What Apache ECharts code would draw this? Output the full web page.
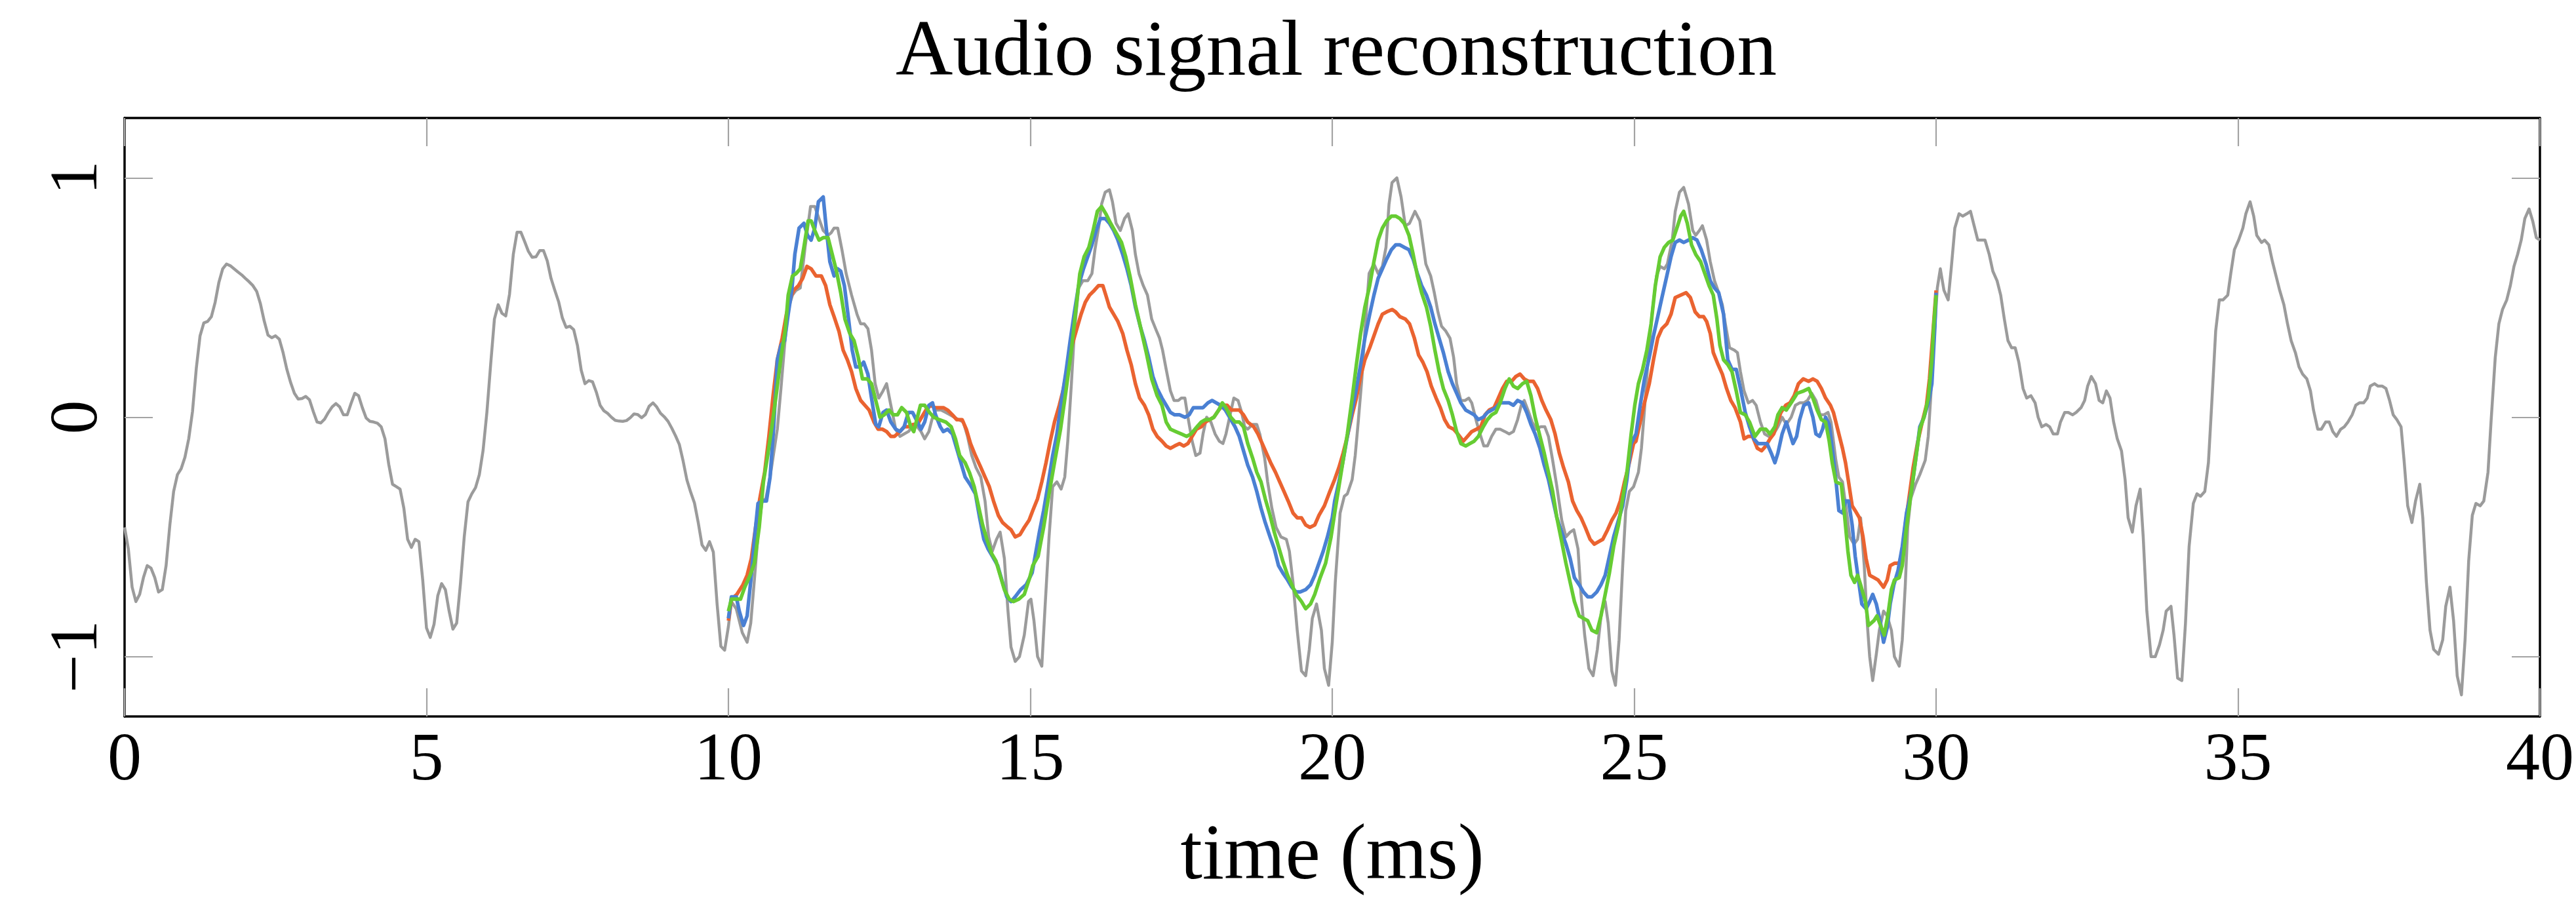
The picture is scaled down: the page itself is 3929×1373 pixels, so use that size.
<!DOCTYPE html>
<html>
<head>
<meta charset="utf-8">
<script src="https://cdn.jsdelivr.net/npm/echarts@6/dist/echarts.min.js"></script>
<style>
html,body{margin:0;padding:0;background:#fff;}
#chart{width:3929px;height:1373px;}
</style>
</head>
<body>
<div id="chart"></div>
<script>
const titleText = 'Audio signal reconstruction';
const xAxisName = 'time (ms)';
const xTicks = [0, 5, 10, 15, 20, 25, 30, 35, 40];
const yTicks = [-1, 0, 1];
const yTickLabels = ['\u22121', '0', '1'];

// original signal, 0–10 ms sampled every 0.0625 ms
const sampleMs = 0.0625;
const originalHead = [-0.46,-0.55,-0.71,-0.77,-0.74,-0.67,-0.62,-0.63,-0.67,-0.73,-0.72,-0.62,-0.45,-0.31,-0.24,-0.215,-0.167,-0.09,0.024,0.203,
0.34,0.394,0.40,0.42,0.48,0.564,0.62,0.64,0.633,0.62,0.607,0.595,0.58,0.566,0.55,0.526,0.474,0.402,0.343,0.332,
0.34,0.326,0.27,0.2,0.145,0.10,0.076,0.078,0.087,0.073,0.024,-0.02,-0.024,-0.008,0.02,0.043,0.057,0.043,0.01,0.01,
0.057,0.1,0.09,0.04,-0.003,-0.017,-0.02,-0.025,-0.04,-0.09,-0.197,-0.28,-0.29,-0.30,-0.38,-0.51,-0.544,-0.51,-0.52,-0.68,
-0.88,-0.92,-0.865,-0.745,-0.695,-0.72,-0.81,-0.885,-0.86,-0.695,-0.50,-0.353,-0.32,-0.294,-0.24,-0.138,0.02,0.22,0.41,0.47,
0.434,0.423,0.514,0.68,0.773,0.773,0.734,0.693,0.668,0.67,0.696,0.696,0.653,0.58,0.53,0.483,0.415,0.375,0.38,0.366,
0.30,0.196,0.14,0.153,0.148,0.105,0.05,0.027,0.016,0,-0.013,-0.016,-0.017,-0.014,-0.002,0.014,0.011,-0.002,0.011,0.046,
0.06,0.043,0.017,0.002,-0.017,-0.046,-0.078,-0.114,-0.183,-0.262,-0.313,-0.358,-0.44,-0.533,-0.556,-0.52,-0.563,-0.78,-0.957,-0.973,
-0.874];

// original signal, 10–40 ms  [time ms, amplitude]
const originalTail = [[10.05,-0.77],[10.13,-0.80],[10.18,-0.85],[10.23,-0.90],[10.31,-0.94],[10.37,-0.86],[10.43,-0.68],[10.50,-0.46],[10.56,-0.35],[10.62,-0.34],[10.69,-0.25],[10.75,-0.15],[10.81,-0.05],[10.87,0.12],[10.93,0.30],[10.99,0.45],[11.06,0.51],[11.12,0.53],[11.19,0.54],[11.27,0.71],[11.36,0.88],[11.43,0.88],[11.50,0.83],[11.57,0.78],[11.65,0.76],[11.70,0.77],[11.75,0.79],[11.81,0.79],[11.88,0.70],[11.95,0.60],[12.04,0.51],[12.13,0.43],[12.19,0.39],[12.25,0.39],[12.31,0.37],[12.37,0.28],[12.43,0.14],[12.49,0.08],[12.56,0.11],[12.62,0.14],[12.69,0.05],[12.77,-0.05],[12.84,-0.08],[12.91,-0.07],[12.98,-0.06],[13.05,-0.04],[13.13,-0.04],[13.19,-0.06],[13.25,-0.09],[13.32,-0.06],[13.37,-0.01],[13.43,0.03],[13.52,0.03],[13.60,0.02],[13.67,0.01],[13.74,0],[13.81,-0.01],[13.89,-0.02],[13.96,-0.08],[14.03,-0.16],[14.10,-0.21],[14.18,-0.25],[14.25,-0.35],[14.31,-0.50],[14.37,-0.56],[14.44,-0.51],[14.50,-0.48],[14.57,-0.59],[14.63,-0.81],[14.68,-0.96],[14.75,-1.02],[14.82,-1.00],[14.90,-0.91],[14.97,-0.77],
[15.01,-0.76],[15.06,-0.85],[15.12,-1.00],[15.19,-1.04],[15.24,-0.81],[15.31,-0.50],[15.37,-0.29],[15.44,-0.27],[15.51,-0.30],[15.57,-0.25],[15.62,-0.10],[15.68,0.14],[15.73,0.36],[15.80,0.54],[15.87,0.57],[15.95,0.57],[16.02,0.60],[16.07,0.70],[16.13,0.79],[16.18,0.89],[16.24,0.94],[16.31,0.95],[16.36,0.90],[16.42,0.81],[16.49,0.78],[16.56,0.83],[16.62,0.85],[16.69,0.78],[16.74,0.68],[16.80,0.60],[16.87,0.55],[16.94,0.51],[17.01,0.41],[17.09,0.36],[17.14,0.33],[17.19,0.28],[17.25,0.20],[17.32,0.11],[17.38,0.07],[17.45,0.07],[17.50,0.08],[17.56,0.08],[17.61,0],[17.68,-0.10],[17.74,-0.16],[17.81,-0.15],[17.86,-0.07],[17.92,0],[17.99,-0.02],[18.06,-0.07],[18.13,-0.10],[18.19,-0.11],[18.24,-0.07],[18.30,0],[18.37,0.08],[18.44,0.07],[18.50,0.02],[18.55,-0.04],[18.60,-0.05],[18.68,-0.03],[18.75,-0.03],[18.80,-0.07],[18.88,-0.17],[18.93,-0.27],[19.00,-0.38],[19.07,-0.46],[19.15,-0.50],[19.24,-0.51],[19.29,-0.56],[19.35,-0.69],[19.42,-0.89],[19.49,-1.06],[19.56,-1.08],[19.62,-0.97],[19.67,-0.84],[19.74,-0.78],[19.82,-0.89],[19.87,-1.05],[19.94,-1.12],
[20.00,-0.94],[20.05,-0.69],[20.13,-0.40],[20.20,-0.33],[20.25,-0.32],[20.33,-0.26],[20.38,-0.16],[20.43,-0.02],[20.49,0.16],[20.54,0.36],[20.61,0.60],[20.69,0.64],[20.76,0.60],[20.83,0.63],[20.89,0.71],[20.94,0.89],[20.99,0.98],[21.07,1.00],[21.14,0.92],[21.21,0.80],[21.28,0.81],[21.37,0.86],[21.45,0.82],[21.50,0.73],[21.55,0.64],[21.63,0.59],[21.69,0.52],[21.75,0.44],[21.81,0.38],[21.88,0.36],[21.95,0.33],[22.01,0.25],[22.06,0.14],[22.13,0.07],[22.20,0.07],[22.26,0.08],[22.31,0.06],[22.39,-0.02],[22.46,-0.08],[22.51,-0.12],[22.57,-0.12],[22.64,-0.08],[22.71,-0.05],[22.78,-0.05],[22.86,-0.06],[22.93,-0.07],[23.00,-0.06],[23.07,-0.01],[23.13,0.05],[23.18,0.07],[23.24,0.03],[23.31,-0.02],[23.38,-0.05],[23.45,-0.04],[23.52,-0.04],[23.58,-0.08],[23.65,-0.18],[23.72,-0.29],[23.80,-0.43],[23.87,-0.50],[23.94,-0.48],[24.00,-0.47],[24.07,-0.55],[24.12,-0.74],[24.18,-0.91],[24.25,-1.05],[24.32,-1.08],[24.39,-0.97],[24.46,-0.81],[24.52,-0.77],[24.57,-0.86],[24.63,-1.06],[24.69,-1.12],[24.75,-0.93],[24.81,-0.62],[24.86,-0.39],[24.92,-0.31],[24.99,-0.29],
[25.07,-0.23],[25.12,-0.13],[25.17,0.03],[25.23,0.24],[25.30,0.44],[25.37,0.59],[25.43,0.63],[25.50,0.62],[25.55,0.64],[25.63,0.74],[25.68,0.86],[25.75,0.94],[25.82,0.96],[25.90,0.89],[25.97,0.78],[26.02,0.76],[26.08,0.78],[26.13,0.80],[26.20,0.74],[26.26,0.65],[26.33,0.57],[26.40,0.52],[26.46,0.47],[26.51,0.39],[26.58,0.29],[26.66,0.28],[26.71,0.27],[26.76,0.19],[26.82,0.11],[26.89,0.06],[26.96,0.07],[27.02,0.05],[27.09,-0.02],[27.16,-0.07],[27.23,-0.08],[27.31,-0.07],[27.38,-0.04],[27.45,0],[27.52,-0.03],[27.60,0],[27.67,0.05],[27.74,0.06],[27.81,0.06],[27.87,0.07],[27.94,0.10],[28.01,0.07],[28.08,0.01],[28.14,0.01],[28.21,0.02],[28.26,-0.02],[28.34,-0.18],[28.39,-0.25],[28.45,-0.27],[28.52,-0.40],[28.57,-0.50],[28.64,-0.53],[28.70,-0.51],[28.75,-0.42],[28.81,-0.62],[28.86,-0.86],[28.90,-1.00],[28.95,-1.10],[29.01,-0.99],[29.06,-0.89],[29.13,-0.81],[29.19,-0.83],[29.26,-0.89],[29.31,-1.00],[29.39,-1.04],[29.44,-0.93],[29.49,-0.70],[29.53,-0.46],[29.58,-0.34],[29.66,-0.28],[29.73,-0.24],[29.82,-0.18],[29.87,-0.08],[29.91,0.08],[29.96,0.30],[30.02,0.54],
[30.07,0.62],[30.13,0.53],[30.20,0.49],[30.25,0.62],[30.31,0.79],[30.38,0.85],[30.44,0.84],[30.51,0.85],[30.57,0.86],[30.63,0.80],[30.69,0.74],[30.75,0.74],[30.81,0.74],[30.88,0.68],[30.94,0.61],[31.01,0.57],[31.07,0.51],[31.13,0.41],[31.19,0.32],[31.25,0.29],[31.31,0.29],[31.37,0.23],[31.44,0.12],[31.50,0.08],[31.57,0.09],[31.64,0.06],[31.69,0],[31.75,-0.04],[31.82,-0.03],[31.88,-0.04],[31.94,-0.07],[32.01,-0.07],[32.06,-0.02],[32.13,0.02],[32.19,0.02],[32.26,0.01],[32.32,0.02],[32.40,0.04],[32.46,0.07],[32.51,0.13],[32.57,0.17],[32.64,0.14],[32.70,0.07],[32.76,0.06],[32.82,0.11],[32.88,0.08],[32.94,-0.02],[33.00,-0.09],[33.07,-0.14],[33.13,-0.26],[33.18,-0.42],[33.25,-0.48],[33.31,-0.37],[33.38,-0.30],[33.43,-0.50],[33.49,-0.81],[33.56,-1.00],[33.63,-1.00],[33.70,-0.95],[33.76,-0.89],[33.81,-0.81],[33.89,-0.79],[33.94,-0.91],[34.00,-1.09],[34.07,-1.10],[34.13,-0.86],[34.19,-0.54],[34.26,-0.36],[34.32,-0.32],[34.38,-0.33],[34.45,-0.31],[34.51,-0.19],[34.57,0.08],[34.63,0.36],[34.69,0.49],[34.75,0.49],[34.83,0.51],[34.88,0.60],[34.94,0.70],[35.01,0.74],
[35.08,0.79],[35.13,0.85],[35.20,0.90],[35.26,0.84],[35.31,0.76],[35.39,0.73],[35.44,0.74],[35.51,0.72],[35.57,0.65],[35.63,0.59],[35.69,0.53],[35.76,0.47],[35.82,0.39],[35.88,0.32],[35.95,0.27],[36.01,0.21],[36.07,0.18],[36.14,0.16],[36.20,0.11],[36.25,0.03],[36.32,-0.05],[36.38,-0.05],[36.45,-0.02],[36.51,-0.02],[36.57,-0.06],[36.63,-0.08],[36.70,-0.05],[36.76,-0.04],[36.82,-0.02],[36.89,0.01],[36.95,0.05],[37.01,0.06],[37.08,0.06],[37.14,0.08],[37.19,0.13],[37.26,0.14],[37.32,0.13],[37.39,0.13],[37.45,0.12],[37.51,0.07],[37.57,0.01],[37.63,-0.01],[37.70,-0.04],[37.75,-0.18],[37.81,-0.37],[37.88,-0.44],[37.94,-0.35],[38.01,-0.28],[38.06,-0.42],[38.12,-0.69],[38.18,-0.89],[38.24,-0.97],[38.32,-0.99],[38.39,-0.93],[38.44,-0.79],[38.51,-0.71],[38.57,-0.85],[38.63,-1.08],[38.70,-1.16],[38.76,-0.93],[38.82,-0.60],[38.88,-0.41],[38.94,-0.36],[39.01,-0.37],[39.07,-0.35],[39.14,-0.23],[39.19,-0.02],[39.26,0.25],[39.32,0.39],[39.38,0.45],[39.45,0.49],[39.51,0.55],[39.57,0.63],[39.63,0.68],[39.69,0.74],[39.75,0.83],[39.82,0.87],[39.88,0.82],[39.94,0.75],[40.00,0.74]];

// reconstructions 10–30 ms  [time ms, amplitude]
const reconBlue = [[10.00,-0.84],[10.05,-0.75],[10.13,-0.75],[10.18,-0.81],[10.25,-0.87],[10.31,-0.83],[10.38,-0.66],[10.43,-0.51],[10.49,-0.36],[10.56,-0.35],[10.63,-0.35],[10.69,-0.25],[10.75,-0.04],[10.81,0.24],[10.87,0.30],[10.93,0.32],[10.99,0.43],[11.05,0.53],[11.10,0.68],[11.17,0.79],[11.25,0.81],[11.31,0.76],[11.37,0.74],[11.43,0.79],[11.49,0.90],[11.57,0.92],[11.62,0.79],[11.68,0.65],[11.75,0.59],[11.81,0.62],[11.86,0.61],[11.92,0.55],[11.99,0.41],[12.05,0.28],[12.11,0.21],[12.18,0.21],[12.24,0.23],[12.31,0.18],[12.37,0.08],[12.44,-0.03],[12.49,-0.04],[12.56,0.02],[12.62,0.03],[12.69,-0.02],[12.77,-0.05],[12.84,-0.06],[12.91,-0.04],[12.98,0.02],[13.05,0.02],[13.13,-0.02],[13.19,-0.05],[13.25,-0.02],[13.32,0.05],[13.38,0.06],[13.43,0.01],[13.51,-0.04],[13.56,-0.06],[13.63,-0.05],[13.71,-0.07],[13.78,-0.13],[13.85,-0.19],[13.92,-0.25],[14.00,-0.28],[14.09,-0.32],[14.16,-0.42],[14.23,-0.51],[14.30,-0.55],[14.37,-0.58],[14.46,-0.62],[14.54,-0.69],[14.61,-0.75],[14.68,-0.77],[14.75,-0.75],[14.84,-0.72],[14.93,-0.70],
[15.03,-0.65],[15.08,-0.58],[15.15,-0.48],[15.22,-0.39],[15.30,-0.27],[15.37,-0.16],[15.44,-0.07],[15.51,0.06],[15.59,0.19],[15.66,0.32],[15.73,0.44],[15.80,0.55],[15.88,0.62],[15.95,0.67],[16.02,0.72],[16.09,0.78],[16.16,0.83],[16.24,0.83],[16.31,0.81],[16.38,0.78],[16.45,0.74],[16.53,0.68],[16.60,0.62],[16.67,0.55],[16.74,0.46],[16.82,0.38],[16.89,0.32],[16.96,0.25],[17.03,0.17],[17.10,0.12],[17.18,0.08],[17.25,0.05],[17.32,0.02],[17.39,0.01],[17.47,0.01],[17.56,0],[17.63,0.01],[17.70,0.04],[17.77,0.04],[17.86,0.04],[17.94,0.06],[18.01,0.07],[18.08,0.06],[18.15,0.05],[18.23,0.03],[18.30,0],[18.39,-0.04],[18.46,-0.08],[18.53,-0.14],[18.60,-0.20],[18.68,-0.25],[18.75,-0.31],[18.82,-0.38],[18.89,-0.44],[18.97,-0.50],[19.04,-0.55],[19.11,-0.62],[19.18,-0.65],[19.26,-0.68],[19.33,-0.71],[19.40,-0.73],[19.47,-0.73],[19.56,-0.72],[19.64,-0.70],[19.71,-0.66],[19.78,-0.61],[19.85,-0.56],[19.92,-0.50],[20.00,-0.42],
[20.04,-0.35],[20.11,-0.27],[20.18,-0.18],[20.25,-0.08],[20.33,0.03],[20.40,0.12],[20.47,0.22],[20.54,0.33],[20.62,0.43],[20.69,0.51],[20.76,0.58],[20.83,0.62],[20.90,0.66],[20.98,0.70],[21.05,0.72],[21.12,0.72],[21.19,0.71],[21.27,0.70],[21.34,0.66],[21.41,0.60],[21.48,0.55],[21.56,0.51],[21.63,0.46],[21.70,0.39],[21.77,0.33],[21.84,0.27],[21.92,0.19],[21.99,0.14],[22.06,0.10],[22.13,0.06],[22.21,0.03],[22.28,0.02],[22.35,0.01],[22.42,-0.01],[22.50,0],[22.57,0.02],[22.64,0.03],[22.71,0.04],[22.78,0.06],[22.86,0.06],[22.93,0.06],[23.00,0.05],[23.07,0.07],[23.15,0.06],[23.22,0.02],[23.29,-0.03],[23.36,-0.07],[23.44,-0.13],[23.51,-0.20],[23.58,-0.26],[23.65,-0.34],[23.72,-0.42],[23.80,-0.48],[23.87,-0.53],[23.94,-0.59],[24.01,-0.67],[24.09,-0.70],[24.16,-0.73],[24.23,-0.75],[24.30,-0.75],[24.38,-0.73],[24.45,-0.70],[24.52,-0.66],[24.59,-0.58],[24.66,-0.50],[24.74,-0.43],[24.81,-0.37],[24.88,-0.26],[24.95,-0.11],
[25.03,-0.07],[25.10,0.05],[25.17,0.16],[25.25,0.25],[25.32,0.34],[25.39,0.42],[25.46,0.50],[25.54,0.59],[25.61,0.67],[25.68,0.73],[25.75,0.74],[25.82,0.73],[25.90,0.74],[25.97,0.75],[26.04,0.74],[26.11,0.70],[26.19,0.64],[26.26,0.57],[26.33,0.54],[26.40,0.52],[26.48,0.43],[26.55,0.24],[26.62,0.20],[26.69,0.20],[26.76,0.12],[26.84,0.02],[26.91,-0.04],[26.98,-0.09],[27.05,-0.11],[27.13,-0.11],[27.20,-0.11],[27.27,-0.15],[27.33,-0.19],[27.38,-0.15],[27.45,-0.07],[27.52,-0.02],[27.58,-0.07],[27.63,-0.11],[27.69,-0.08],[27.74,-0.01],[27.81,0.05],[27.89,0.06],[27.96,0],[28.01,-0.07],[28.07,-0.08],[28.12,-0.05],[28.17,0],[28.23,-0.03],[28.28,-0.13],[28.34,-0.26],[28.39,-0.39],[28.45,-0.40],[28.50,-0.35],[28.55,-0.35],[28.61,-0.45],[28.66,-0.58],[28.72,-0.69],[28.77,-0.78],[28.84,-0.80],[28.90,-0.77],[28.95,-0.74],[29.01,-0.78],[29.08,-0.86],[29.13,-0.94],[29.19,-0.88],[29.24,-0.78],[29.30,-0.70],[29.37,-0.64],[29.44,-0.54],[29.51,-0.40],[29.59,-0.31],[29.66,-0.18],[29.73,-0.04],[29.80,0],[29.87,0.06],[29.93,0.14],[29.98,0.38],[30.00,0.52]];

const reconGreen = [[10.00,-0.81],[10.05,-0.76],[10.13,-0.76],[10.20,-0.76],[10.27,-0.71],[10.36,-0.66],[10.43,-0.61],[10.51,-0.46],[10.58,-0.27],[10.65,-0.16],[10.72,-0.04],[10.80,0.11],[10.87,0.25],[10.94,0.36],[10.99,0.51],[11.06,0.59],[11.12,0.60],[11.19,0.62],[11.25,0.71],[11.32,0.82],[11.37,0.82],[11.43,0.78],[11.50,0.74],[11.57,0.75],[11.65,0.75],[11.72,0.68],[11.79,0.61],[11.86,0.52],[11.93,0.41],[12.01,0.35],[12.08,0.32],[12.15,0.25],[12.22,0.16],[12.30,0.16],[12.37,0.14],[12.44,0.07],[12.51,0],[12.58,0.01],[12.66,0.03],[12.73,0.01],[12.80,0.01],[12.87,0.04],[12.95,0.02],[13.02,-0.04],[13.07,-0.06],[13.13,0],[13.18,0.05],[13.25,0.05],[13.33,0.02],[13.40,0],[13.49,-0.01],[13.60,-0.02],[13.69,-0.04],[13.76,-0.09],[13.83,-0.16],[13.92,-0.19],[13.99,-0.23],[14.07,-0.29],[14.14,-0.37],[14.21,-0.45],[14.28,-0.51],[14.36,-0.57],[14.43,-0.60],[14.50,-0.66],[14.57,-0.72],[14.65,-0.76],[14.72,-0.77],[14.81,-0.76],[14.90,-0.74],[14.99,-0.67],
[15.04,-0.62],[15.13,-0.58],[15.22,-0.46],[15.31,-0.32],[15.40,-0.19],[15.50,-0.05],[15.59,0.11],[15.68,0.28],[15.75,0.44],[15.82,0.60],[15.89,0.67],[15.97,0.71],[16.04,0.78],[16.11,0.86],[16.18,0.88],[16.25,0.85],[16.33,0.81],[16.42,0.77],[16.51,0.73],[16.58,0.67],[16.65,0.59],[16.74,0.47],[16.83,0.37],[16.92,0.27],[17.01,0.16],[17.10,0.09],[17.18,0.05],[17.25,-0.02],[17.32,-0.05],[17.41,-0.06],[17.50,-0.07],[17.59,-0.08],[17.66,-0.07],[17.76,-0.04],[17.83,-0.02],[17.90,-0.01],[17.97,-0.01],[18.04,0],[18.12,0.03],[18.18,0.06],[18.24,0.04],[18.32,0],[18.39,-0.02],[18.46,-0.02],[18.53,-0.04],[18.60,-0.11],[18.68,-0.17],[18.75,-0.23],[18.82,-0.27],[18.89,-0.34],[18.97,-0.41],[19.04,-0.48],[19.11,-0.54],[19.18,-0.60],[19.26,-0.66],[19.33,-0.70],[19.40,-0.74],[19.49,-0.77],[19.56,-0.80],[19.64,-0.78],[19.71,-0.74],[19.80,-0.67],[19.89,-0.61],[19.98,-0.50],
[20.04,-0.40],[20.11,-0.29],[20.18,-0.18],[20.25,-0.07],[20.33,0.08],[20.40,0.22],[20.47,0.35],[20.54,0.46],[20.62,0.55],[20.69,0.65],[20.76,0.74],[20.83,0.79],[20.90,0.82],[20.98,0.84],[21.05,0.84],[21.12,0.83],[21.19,0.81],[21.27,0.76],[21.34,0.68],[21.41,0.59],[21.48,0.52],[21.56,0.46],[21.63,0.38],[21.70,0.28],[21.77,0.19],[21.84,0.12],[21.92,0.07],[21.99,0.01],[22.06,-0.06],[22.13,-0.11],[22.21,-0.12],[22.28,-0.11],[22.35,-0.10],[22.42,-0.08],[22.50,-0.04],[22.57,-0.01],[22.64,0.01],[22.71,0.02],[22.78,0.06],[22.86,0.12],[22.93,0.16],[23.00,0.13],[23.07,0.12],[23.15,0.14],[23.22,0.15],[23.29,0.09],[23.36,0],[23.44,-0.08],[23.51,-0.15],[23.58,-0.23],[23.65,-0.31],[23.72,-0.42],[23.80,-0.52],[23.87,-0.61],[23.94,-0.69],[24.01,-0.77],[24.09,-0.83],[24.16,-0.84],[24.23,-0.85],[24.30,-0.89],[24.38,-0.90],[24.45,-0.83],[24.52,-0.74],[24.59,-0.65],[24.66,-0.54],[24.74,-0.45],[24.81,-0.34],[24.88,-0.23],[24.95,-0.07],
[25.01,0.05],[25.07,0.14],[25.14,0.20],[25.21,0.28],[25.28,0.39],[25.35,0.55],[25.43,0.67],[25.50,0.71],[25.57,0.73],[25.64,0.74],[25.72,0.80],[25.77,0.84],[25.82,0.86],[25.88,0.81],[25.95,0.72],[26.02,0.68],[26.10,0.65],[26.17,0.60],[26.24,0.55],[26.31,0.51],[26.37,0.41],[26.42,0.30],[26.48,0.24],[26.55,0.22],[26.62,0.19],[26.69,0.11],[26.76,0.02],[26.84,0.01],[26.91,-0.02],[27.00,-0.08],[27.09,-0.05],[27.18,-0.05],[27.25,-0.07],[27.33,-0.04],[27.38,0.01],[27.45,0.04],[27.52,0.03],[27.60,0.06],[27.70,0.10],[27.81,0.11],[27.89,0.12],[27.96,0.08],[28.03,0.03],[28.10,-0.01],[28.17,-0.02],[28.23,-0.10],[28.28,-0.19],[28.34,-0.27],[28.43,-0.28],[28.48,-0.40],[28.54,-0.56],[28.59,-0.66],[28.65,-0.69],[28.70,-0.66],[28.75,-0.70],[28.83,-0.77],[28.88,-0.87],[28.97,-0.85],[29.02,-0.83],[29.08,-0.87],[29.14,-0.91],[29.20,-0.83],[29.26,-0.72],[29.31,-0.68],[29.39,-0.67],[29.44,-0.62],[29.51,-0.46],[29.59,-0.31],[29.66,-0.18],[29.73,-0.05],[29.80,0],[29.87,0.08],[29.93,0.24],[29.96,0.38],[30.00,0.51]];

const reconOrange = [[10.00,-0.85],[10.05,-0.76],[10.14,-0.74],[10.24,-0.70],[10.31,-0.66],[10.38,-0.59],[10.45,-0.46],[10.52,-0.34],[10.60,-0.23],[10.67,-0.08],[10.74,0.09],[10.81,0.24],[10.89,0.33],[10.96,0.43],[11.03,0.50],[11.08,0.53],[11.16,0.55],[11.23,0.58],[11.30,0.63],[11.37,0.62],[11.45,0.59],[11.54,0.59],[11.61,0.55],[11.68,0.47],[11.75,0.42],[11.83,0.36],[11.90,0.28],[11.97,0.24],[12.04,0.19],[12.11,0.12],[12.19,0.07],[12.26,0.05],[12.33,0.03],[12.41,-0.02],[12.48,-0.05],[12.55,-0.05],[12.62,-0.06],[12.69,-0.08],[12.75,-0.08],[12.84,-0.06],[12.91,-0.04],[12.98,-0.04],[13.06,-0.03],[13.13,-0.03],[13.20,0],[13.27,0.03],[13.35,0.05],[13.42,0.04],[13.49,0.04],[13.56,0.04],[13.63,0.03],[13.71,0.01],[13.78,-0.01],[13.87,-0.01],[13.94,-0.05],[14.01,-0.11],[14.09,-0.16],[14.18,-0.21],[14.25,-0.25],[14.32,-0.29],[14.39,-0.35],[14.47,-0.41],[14.54,-0.44],[14.63,-0.46],[14.68,-0.47],[14.75,-0.50],[14.83,-0.49],[14.90,-0.46],[14.98,-0.43],
[15.04,-0.39],[15.12,-0.34],[15.19,-0.27],[15.26,-0.19],[15.33,-0.10],[15.40,-0.02],[15.48,0.05],[15.55,0.12],[15.62,0.22],[15.69,0.30],[15.77,0.37],[15.84,0.43],[15.91,0.48],[15.98,0.51],[16.06,0.53],[16.13,0.55],[16.20,0.55],[16.25,0.51],[16.31,0.46],[16.38,0.43],[16.45,0.40],[16.53,0.35],[16.60,0.28],[16.67,0.22],[16.74,0.14],[16.81,0.08],[16.89,0.05],[16.96,0.01],[17.03,-0.05],[17.10,-0.08],[17.18,-0.10],[17.25,-0.12],[17.32,-0.13],[17.39,-0.12],[17.47,-0.11],[17.54,-0.12],[17.61,-0.11],[17.68,-0.08],[17.75,-0.05],[17.83,-0.04],[17.90,-0.02],[17.97,-0.01],[18.04,0],[18.12,0.03],[18.19,0.05],[18.26,0.05],[18.33,0.03],[18.41,0.03],[18.46,0.03],[18.53,0.01],[18.60,-0.02],[18.70,-0.04],[18.77,-0.07],[18.84,-0.11],[18.91,-0.15],[18.98,-0.19],[19.06,-0.23],[19.13,-0.27],[19.20,-0.31],[19.27,-0.35],[19.35,-0.40],[19.42,-0.42],[19.49,-0.42],[19.56,-0.45],[19.63,-0.46],[19.71,-0.45],[19.78,-0.41],[19.87,-0.37],[19.96,-0.31],
[20.04,-0.26],[20.11,-0.21],[20.18,-0.15],[20.25,-0.08],[20.33,0.01],[20.40,0.08],[20.47,0.17],[20.54,0.24],[20.62,0.29],[20.69,0.34],[20.76,0.39],[20.83,0.43],[20.90,0.44],[20.99,0.45],[21.05,0.44],[21.12,0.42],[21.21,0.41],[21.28,0.39],[21.36,0.33],[21.43,0.26],[21.50,0.23],[21.57,0.19],[21.64,0.13],[21.72,0.08],[21.79,0.04],[21.86,-0.01],[21.93,-0.04],[22.01,-0.05],[22.08,-0.07],[22.17,-0.10],[22.24,-0.08],[22.31,-0.06],[22.39,-0.05],[22.46,-0.04],[22.53,0.01],[22.60,0.03],[22.68,0.04],[22.75,0.08],[22.82,0.12],[22.89,0.15],[22.97,0.15],[23.04,0.17],[23.11,0.18],[23.18,0.16],[23.25,0.15],[23.33,0.15],[23.40,0.12],[23.47,0.07],[23.54,0.03],[23.62,-0.01],[23.69,-0.07],[23.76,-0.15],[23.83,-0.21],[23.91,-0.27],[23.98,-0.35],[24.05,-0.39],[24.12,-0.42],[24.19,-0.46],[24.27,-0.51],[24.34,-0.53],[24.41,-0.52],[24.48,-0.51],[24.56,-0.47],[24.63,-0.43],[24.70,-0.40],[24.77,-0.35],[24.84,-0.27],[24.92,-0.19],[24.99,-0.11],
[25.03,-0.10],[25.10,-0.02],[25.17,0.06],[25.25,0.14],[25.32,0.24],[25.39,0.33],[25.46,0.37],[25.54,0.39],[25.61,0.43],[25.68,0.50],[25.77,0.51],[25.86,0.52],[25.93,0.50],[26.01,0.44],[26.08,0.42],[26.15,0.42],[26.20,0.40],[26.26,0.35],[26.31,0.27],[26.39,0.22],[26.46,0.18],[26.53,0.12],[26.60,0.07],[26.67,0.04],[26.76,-0.02],[26.82,-0.09],[26.89,-0.08],[26.96,-0.08],[27.04,-0.13],[27.11,-0.14],[27.18,-0.12],[27.25,-0.09],[27.31,-0.07],[27.36,-0.03],[27.43,0.02],[27.51,0.05],[27.58,0.06],[27.65,0.09],[27.72,0.14],[27.80,0.16],[27.89,0.15],[27.96,0.16],[28.03,0.15],[28.10,0.12],[28.17,0.08],[28.25,0.05],[28.30,0.02],[28.37,-0.05],[28.45,-0.13],[28.50,-0.19],[28.55,-0.27],[28.61,-0.37],[28.66,-0.39],[28.73,-0.42],[28.79,-0.50],[28.84,-0.59],[28.90,-0.66],[28.97,-0.67],[29.04,-0.68],[29.13,-0.71],[29.19,-0.68],[29.24,-0.62],[29.31,-0.61],[29.39,-0.61],[29.44,-0.56],[29.49,-0.45],[29.55,-0.34],[29.62,-0.21],[29.69,-0.11],[29.77,-0.02],[29.84,0.05],[29.89,0.16],[29.95,0.36],[30.00,0.53]];

const FONT = '"Liberation Serif", "DejaVu Serif", serif';
const originalData = originalHead.map((v, i) => [i * sampleMs, v]).concat(originalTail);

const frameLine = { show: true, onZero: false, lineStyle: { color: '#000', width: 3.5 } };
const tickStyle = { show: true, inside: true, length: 43, lineStyle: { color: '#a3a3a3', width: 2.2 } };

const chart = echarts.init(document.getElementById('chart'), null, { renderer: 'canvas' });
chart.setOption({
  animation: false,
  backgroundColor: '#ffffff',
  title: {
    text: titleText, left: 2033, textAlign: 'center', top: 17,
    textStyle: { fontFamily: FONT, fontSize: 121, fontWeight: 'normal', color: '#000' }
  },
  grid: { left: 190, right: 53, top: 180, bottom: 270, containLabel: false },
  xAxis: [
    {
      type: 'value', min: xTicks[0], max: xTicks[xTicks.length - 1], interval: 5, position: 'bottom',
      axisLine: frameLine, axisTick: tickStyle, splitLine: { show: false },
      axisLabel: { margin: 17, fontFamily: FONT, fontSize: 104, color: '#000' },
      name: xAxisName, nameLocation: 'middle', nameGap: 155,
      nameTextStyle: { fontFamily: FONT, fontSize: 120, color: '#000' }
    },
    {
      type: 'value', min: xTicks[0], max: xTicks[xTicks.length - 1], interval: 5, position: 'top',
      axisLine: frameLine, axisTick: tickStyle, splitLine: { show: false }, axisLabel: { show: false }
    }
  ],
  yAxis: [
    {
      type: 'value', min: -1.25, max: 1.25, position: 'left',
      axisLine: frameLine, axisTick: Object.assign({}, tickStyle, { customValues: yTicks }), splitLine: { show: false },
      axisLabel: {
        customValues: yTicks, rotate: 90, margin: 18, fontFamily: FONT, fontSize: 104, color: '#000',
        formatter: v => yTickLabels[yTicks.indexOf(Math.round(v))] || ''
      }
    },
    {
      type: 'value', min: -1.25, max: 1.25, position: 'right',
      axisLine: frameLine, axisTick: Object.assign({}, tickStyle, { customValues: yTicks }), splitLine: { show: false },
      axisLabel: { show: false }
    }
  ],
  series: [
    { name: 'original', type: 'line', data: originalData, showSymbol: false, symbol: 'none',
      lineStyle: { color: '#9b9b9b', width: 4.5, join: 'round' }, z: 2 },
    { name: 'orange', type: 'line', data: reconOrange, showSymbol: false, symbol: 'none',
      lineStyle: { color: '#ea6330', width: 5.5, join: 'round' }, z: 3 },
    { name: 'blue', type: 'line', data: reconBlue, showSymbol: false, symbol: 'none',
      lineStyle: { color: '#4a80d3', width: 5.5, join: 'round' }, z: 4 },
    { name: 'green', type: 'line', data: reconGreen, showSymbol: false, symbol: 'none',
      lineStyle: { color: '#66cc33', width: 5.5, join: 'round' }, z: 5 }
  ]
});
</script>
</body>
</html>
